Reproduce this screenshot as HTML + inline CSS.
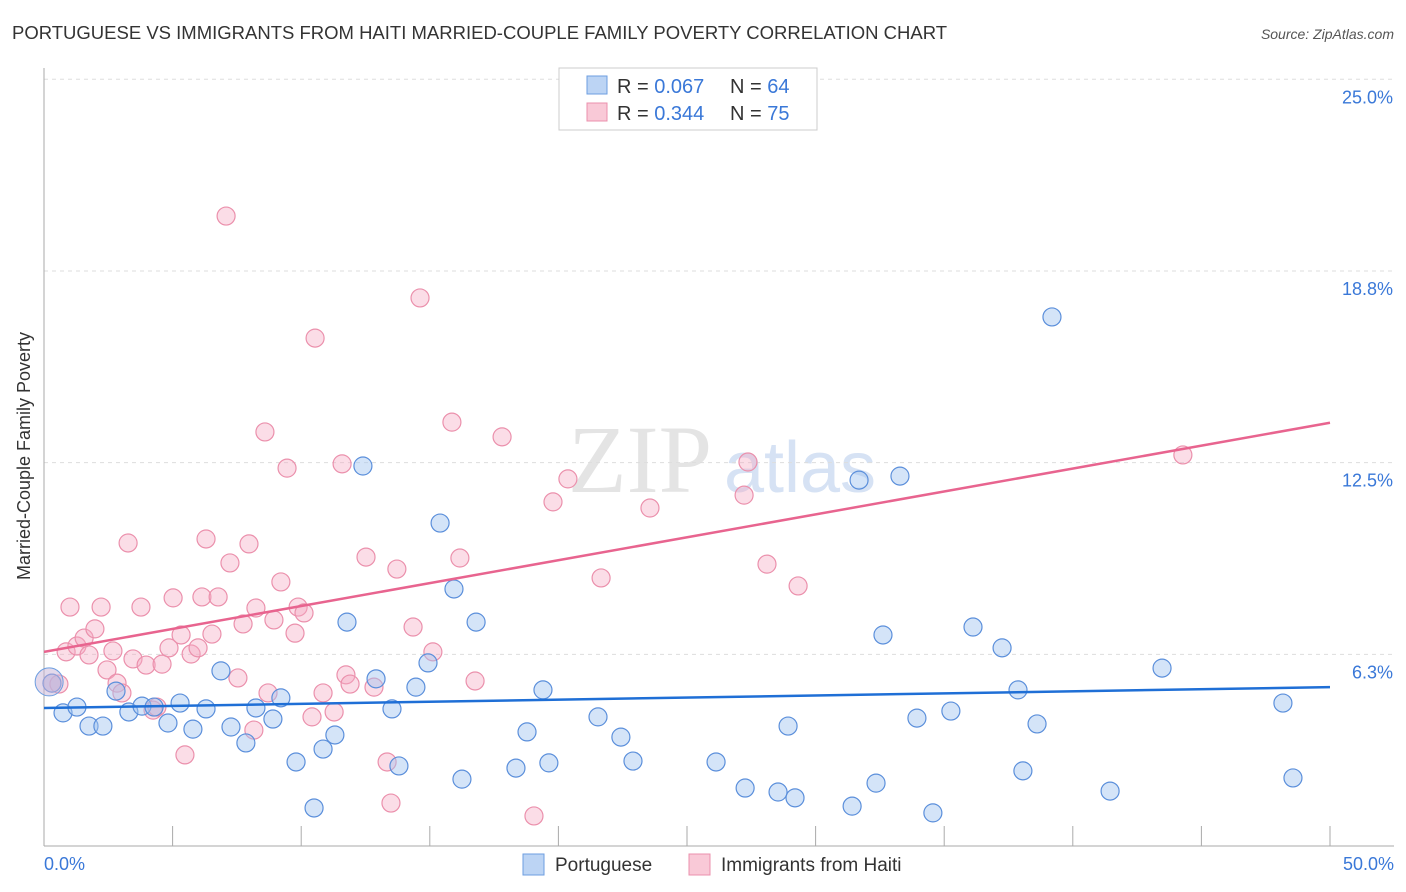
<!DOCTYPE html>
<html><head><meta charset="utf-8">
<style>
body{margin:0;background:#fff;font-family:"Liberation Sans",sans-serif;}
svg{display:block}
</style></head>
<body>
<svg id="chart" width="1406" height="892">
<text x="12" y="39" font-size="18.5" fill="#333">PORTUGUESE VS IMMIGRANTS FROM HAITI MARRIED-COUPLE FAMILY POVERTY CORRELATION CHART</text>
<text x="1394" y="39" font-size="14" fill="#555" font-style="italic" text-anchor="end">Source: ZipAtlas.com</text>
<text x="640" y="492" font-size="96" fill="#e4e4e4" font-family="Liberation Serif" text-anchor="middle">ZIP</text>
<text x="800" y="492" font-size="72" fill="#d6e2f4" text-anchor="middle">atlas</text>
<g id="grid"></g>
<g id="marks"></g>
<text x="30" y="456" font-size="18" fill="#333" text-anchor="middle" transform="rotate(-90 30 456)">Married-Couple Family Poverty</text>
<g>
<rect x="559" y="68" width="258" height="62" fill="#fff" stroke="#ccc"/>
<rect x="587" y="76" width="20" height="18" fill="#bcd4f4" stroke="#6d9ee0"/>
<rect x="587" y="103" width="20" height="18" fill="#f9c9d7" stroke="#eb90ac"/>
<text x="617" y="93" font-size="20" fill="#333">R = <tspan fill="#3a78d8">0.067</tspan></text>
<text x="730" y="93" font-size="20" fill="#333">N = <tspan fill="#3a78d8">64</tspan></text>
<text x="617" y="120" font-size="20" fill="#333">R = <tspan fill="#3a78d8">0.344</tspan></text>
<text x="730" y="120" font-size="20" fill="#333">N = <tspan fill="#3a78d8">75</tspan></text>
</g>
<g>
<rect x="523" y="854" width="21" height="21" fill="#bcd4f4" stroke="#6d9ee0"/>
<text x="555" y="871" font-size="19" fill="#333">Portuguese</text>
<rect x="689" y="854" width="21" height="21" fill="#f9c9d7" stroke="#eb90ac"/>
<text x="721" y="871" font-size="19" fill="#333">Immigrants from Haiti</text>
</g>
</svg>
<script>
const xTicks=[0,5,10,15,20,25,30,35,40,45,50];
const yTicks=[6.25,12.5,18.75,25];
const yTickLabels=["6.3%","12.5%","18.8%","25.0%"];
const bluePx=[[52,683],[63,713],[77,707],[89,726],[103,726],[116,691],[129,712],[142,706],[154,707],[168,723],[180,703],[193,729],[206,709],[221,671],[231,727],[246,743],[256,708],[273,719],[281,698],[296,762],[314,808],[323,749],[335,735],[347,622],[363,466],[376,679],[392,709],[399,766],[416,687],[428,663],[440,523],[454,589],[462,779],[476,622],[516,768],[527,732],[543,690],[549,763],[598,717],[621,737],[633,761],[716,762],[745,788],[778,792],[788,726],[795,798],[852,806],[859,480],[876,783],[883,635],[900,476],[917,718],[933,813],[951,711],[973,627],[1002,648],[1018,690],[1023,771],[1037,724],[1052,317],[1110,791],[1162,668],[1283,703],[1293,778]];
const pinkPx=[[52,683],[59,684],[66,652],[70,607],[77,646],[84,638],[89,655],[95,629],[101,607],[107,670],[113,651],[117,683],[122,693],[128,543],[133,659],[141,607],[146,665],[153,710],[157,707],[162,664],[169,648],[173,598],[181,635],[185,755],[191,654],[198,648],[202,597],[206,539],[212,634],[218,597],[226,216],[230,563],[238,678],[243,624],[249,544],[254,730],[256,608],[265,432],[268,693],[274,620],[281,582],[287,468],[295,633],[298,607],[304,613],[312,717],[315,338],[323,693],[334,712],[342,464],[346,675],[350,684],[366,557],[374,687],[387,762],[391,803],[397,569],[413,627],[420,298],[433,652],[452,422],[460,558],[475,681],[502,437],[534,816],[553,502],[568,479],[601,578],[650,508],[744,495],[748,462],[767,564],[798,586],[1183,455]];
const blueX=bluePx.map(p=>+((p[0]-44)*50/1286).toFixed(2));
const blueY=bluePx.map(p=>+((846-p[1])/30.67).toFixed(2));
const pinkX=pinkPx.map(p=>+((p[0]-44)*50/1286).toFixed(2));
const pinkY=pinkPx.map(p=>+((846-p[1])/30.67).toFixed(2));
const blueTrend=[4.5,5.18];
const pinkTrend=[6.33,13.8];
const X=v=>44+v*1286/50;
const Y=v=>846-v*30.67;
const NS="http://www.w3.org/2000/svg";
const grid=document.getElementById('grid'),marks=document.getElementById('marks');
function mk(tag,attrs,parent){const e=document.createElementNS(NS,tag);for(const k in attrs)e.setAttribute(k,attrs[k]);parent.appendChild(e);return e;}
yTicks.forEach((t,i)=>{
 const l=mk('line',{x1:44,x2:1394,y1:Y(t),y2:Y(t),stroke:'#ddd','stroke-dasharray':'4,4'},grid);
 
 
 const tx=mk('text',{x:1393,y:Y(t)+24,'font-size':18,fill:'#3a78d8','text-anchor':'end'},grid);
 tx.textContent=yTickLabels[i];
 
 
});
const ax=mk('line',{x1:44,x2:44,y1:68,y2:846,stroke:'#aaa'},grid);


const bx=mk('line',{x1:44,x2:1394,y1:846,y2:846,stroke:'#aaa'},grid);


xTicks.forEach(t=>{
 const l=mk('line',{x1:X(t),x2:X(t),y1:826,y2:846,stroke:'#aaa'},grid);
 
 
});
[[0,'0.0%','start',44],[50,'50.0%','end',1394]].forEach(a=>{
 const tx=mk('text',{x:a[3],y:870,'font-size':18,fill:'#3a78d8','text-anchor':a[2]},grid);
 tx.textContent=a[1];
 
 
});
function pts(xs,ys,fill,stroke,name){
 xs.forEach((x,i)=>{
  const c=mk('circle',{cx:X(x),cy:Y(ys[i]),r:9,fill:fill,stroke:stroke,'stroke-width':1.2},marks);
  
  
 });
}
pts(pinkX,pinkY,'rgba(246,170,195,0.4)','#eb90ac','haiti-point');
pts(blueX,blueY,'rgba(160,195,240,0.45)','#5b8fdb','portuguese-point');
const big=mk('circle',{cx:X(0.2),cy:Y(5.35),r:14,fill:'rgba(200,180,215,0.5)',stroke:'#6d9ee0'},marks);


const bl=mk('line',{x1:X(0),x2:X(50),y1:Y(blueTrend[0]),y2:Y(blueTrend[1]),stroke:'#1f6fd6','stroke-width':2.5},marks);


const pl=mk('line',{x1:X(0),x2:X(50),y1:Y(pinkTrend[0]),y2:Y(pinkTrend[1]),stroke:'#e8648f','stroke-width':2.5},marks);


</script>
</body></html>
